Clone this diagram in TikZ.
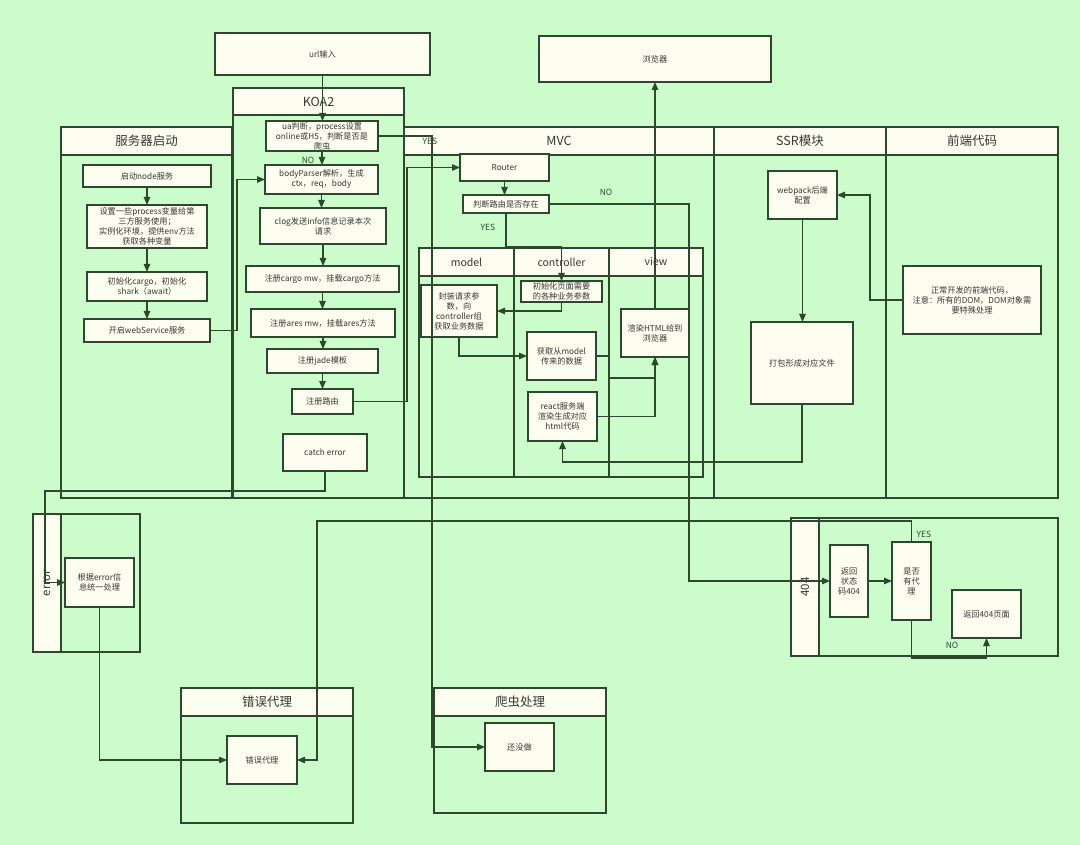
\documentclass[tikz,border=0pt]{standalone}
\usepackage{fontspec}
\setmainfont{Noto Sans CJK SC}
\usetikzlibrary{arrows.meta,calc}
\definecolor{bg}{RGB}{204,252,204}
\definecolor{cream}{RGB}{253,253,240}
\definecolor{lc}{RGB}{45,72,45}
\definecolor{tc}{RGB}{55,55,55}
\newcommand{\mybox}[7][box]{\node[#1, minimum width={(#5-#3)*1pt}, minimum height={(#6-#4)*1pt}] (#2) at ({(#3+#5)/2},{(#4+#6)/2}) {#7};}
\begin{document}
\begin{tikzpicture}[x=1pt,y=-1pt,
  box/.style={draw=lc,fill=cream,line width=1.2pt,inner sep=1pt,outer sep=0pt,align=center,text=tc,font=\fontsize{8.2}{10}\selectfont},
  hdr/.style={box,font=\fontsize{12.5}{14}\selectfont},
  sub/.style={box,font=\fontsize{10.5}{12}\selectfont},
  pool/.style={draw=lc,line width=1.2pt},
  arr/.style={draw=lc,line width=1.2pt,-{Triangle[length=8pt,width=6.5pt]}},
  lbl/.style={text=lc,font=\fontsize{8.5}{9}\selectfont,inner sep=0pt},
  vtxt/.style={rotate=90,text=tc,font=\fontsize{11.5}{12}\selectfont,inner sep=0pt}]
\fill[bg] (0,0) rectangle (1080,845);
\useasboundingbox (0,0) rectangle (1080,845);

% ---- pools ----
\draw[pool] (61,155) rectangle (232,498);
\draw[pool] (233,115) rectangle (404,498);
\draw[pool] (404,155) rectangle (714,498);
\draw[pool] (714,155) rectangle (886,498);
\draw[pool] (886,155) rectangle (1058,498);
\mybox[hdr]{hsrv}{61}{127}{232}{155}{服务器启动}
\mybox[hdr]{hkoa}{233}{88}{404}{115}{KOA2}
\mybox[hdr]{hmvc}{404}{127}{714}{155}{MVC}
\mybox[hdr]{hssr}{714}{127}{886}{155}{SSR模块}
\mybox[hdr]{hfe}{886}{127}{1058}{155}{前端代码}

% inner MVC pool
\draw[pool] (419,276) rectangle (514,477);
\draw[pool] (514,276) rectangle (609,477);
\draw[pool] (609,276) rectangle (703,477);
\mybox[sub]{hmodel}{419}{248}{514}{276}{model}
\mybox[sub]{hctrl}{514}{248}{609}{276}{controller}
\mybox[sub]{hview}{609}{248}{703}{276}{view}

% error pool
\draw[pool] (33,514) rectangle (140,652);
\draw[pool,fill=cream] (33,514) rectangle (61,652);
\node[vtxt] (herr) at (47,583) {error};

% 404 pool
\draw[pool] (791,518) rectangle (1058,656);
\draw[pool,fill=cream] (791,518) rectangle (819,656);
\node[vtxt] (h404) at (805,587) {404};

% proxy pool
\draw[pool] (181,716) rectangle (353,823);
\mybox[hdr]{hproxy}{181}{688}{353}{716}{错误代理}
% spider pool
\draw[pool] (434,716) rectangle (606,813);
\mybox[hdr]{hspider}{434}{688}{606}{716}{爬虫处理}

% ---- boxes ----
\mybox{url}{215}{33}{430}{75}{url输入}
\mybox{browser}{539}{36}{771}{82}{浏览器}

\mybox{ua}{266}{121}{378}{151}{ua判断，process设置\\online或H5，判断是否是\\爬虫}
\mybox{bp}{265}{165}{378}{194}{bodyParser解析，生成\\ctx，req，body}
\mybox{clog}{260}{208}{386}{244}{clog发送info信息记录本次\\请求}
\mybox{cargo}{246}{266}{399}{292}{注册cargo mw，挂载cargo方法}
\mybox{ares}{251}{309}{395}{337}{注册ares mw，挂载ares方法}
\mybox{jade}{267}{349}{378}{373}{注册jade模板}
\mybox{route}{292}{389}{353}{414}{注册路由}
\mybox{catch}{283}{434}{367}{471}{catch error}

\mybox{node}{83}{165}{211}{187}{启动node服务}
\mybox{proc}{87}{205}{207}{248}{设置一些process变量给第\\三方服务使用；\\实例化环境，提供env方法\\获取各种变量}
\mybox{initc}{87}{272}{207}{301}{初始化cargo，初始化\\shark（await）}
\mybox{ws}{84}{319}{210}{342}{开启webService服务}

\mybox{router}{460}{154}{549}{181}{Router}
\mybox{judge}{463}{195}{549}{213}{判断路由是否存在}
\mybox{init}{521}{281}{602}{302}{初始化页面需要\\的各种业务参数}
\mybox{pack}{421}{285}{497}{337}{封装请求参\\数，向\\controller组\\获取业务数据}
\mybox{get}{527}{332}{596}{380}{获取从model\\传来的数据}
\mybox{render}{621}{309}{689}{357}{渲染HTML给到\\浏览器}
\mybox{react}{528}{392}{597}{441}{react服务端\\渲染生成对应\\html代码}

\mybox{wp}{768}{171}{837}{219}{webpack后端\\配置}
\mybox{dabao}{751}{322}{853}{404}{打包形成对应文件}
\mybox{fe}{903}{266}{1041}{334}{正常开发的前端代码，\\注意：所有的DOM，DOM对象需\\要特殊处理}

\mybox{err}{65}{558}{134}{607}{根据error信\\息统一处理}
\mybox{ret}{830}{545}{868}{617}{返回\\状态\\码404}
\mybox{hasp}{892}{542}{931}{620}{是否\\有代\\理}
\mybox{p404}{952}{590}{1021}{638}{返回404页面}
\mybox{proxy}{227}{736}{297}{784}{错误代理}
\mybox{todo}{485}{723}{554}{771}{还没做}

% ---- connectors ----
\draw[arr] (url.south) -- (url.south |- ua.north);
\draw[arr] (ua.south) -- (ua.south |- bp.north);
\draw[arr] (bp.south) -- (bp.south |- clog.north);
\draw[arr] (clog.south) -- (clog.south |- cargo.north);
\draw[arr] (cargo.south) -- (cargo.south |- ares.north);
\draw[arr] (ares.south) -- (ares.south |- jade.north);
\draw[arr] (jade.south) -- (jade.south |- route.north);

\draw[arr] (node.south) -- (node.south |- proc.north);
\draw[arr] (proc.south) -- (proc.south |- initc.north);
\draw[arr] (initc.south) -- (initc.south |- ws.north);
\draw[arr] (ws.east) -- ++(27,0) |- (bp.west);
\draw[arr] (route.east) -- ++(54,0) |- (router.west);
\draw[arr] (ua.east) -- ++(54,0) |- (todo.west);

\draw[arr] (router.south) -- (router.south |- judge.north);
\draw[arr] (judge.south) -- ++(0,34) -| (init.north);
\draw[arr] (judge.east) -- ++(140,0) |- (ret.west);
\draw[arr] (init.south) |- (pack.east);
\draw[arr] (pack.south) |- (get.west);
\draw[arr] (get.east) -- ++(13,0) -- ++(0,22) -| (render.south);
\draw[arr] (react.east) -| (render.south);
\draw[arr] (render.north) -- (render.north |- browser.south);
\draw[arr] (dabao.south) -- ++(0,58) -| (react.south);
\draw[arr] (wp.south) -- (wp.south |- dabao.north);
\draw[arr] (fe.west) -- ++(-33,0) |- (wp.east);

\draw[arr] (catch.south) -- ++(0,20) -| ($(err.west)+(-20,0)$) -- (err.west);
\draw[arr] (err.south) |- (proxy.west);
\draw[arr] (ret.east) -- (ret.east -| hasp.west);
\draw[arr] (hasp.north) -- ++(0,-21) -| ($(proxy.east)+(20,0)$) -- (proxy.east);
\draw[arr] (hasp.south) -- ++(0,38) -| (p404.south);

% ---- labels ----
\node[lbl] (lno1) at (308,160) {NO};
\node[lbl] (lyes1) at (430,141) {YES};
\node[lbl] (lno2) at (606,192) {NO};
\node[lbl] (lyes2) at (488,227) {YES};
\node[lbl] (lyes3) at (924,534) {YES};
\node[lbl] (lno3) at (952,645) {NO};
\end{tikzpicture}
\end{document}
